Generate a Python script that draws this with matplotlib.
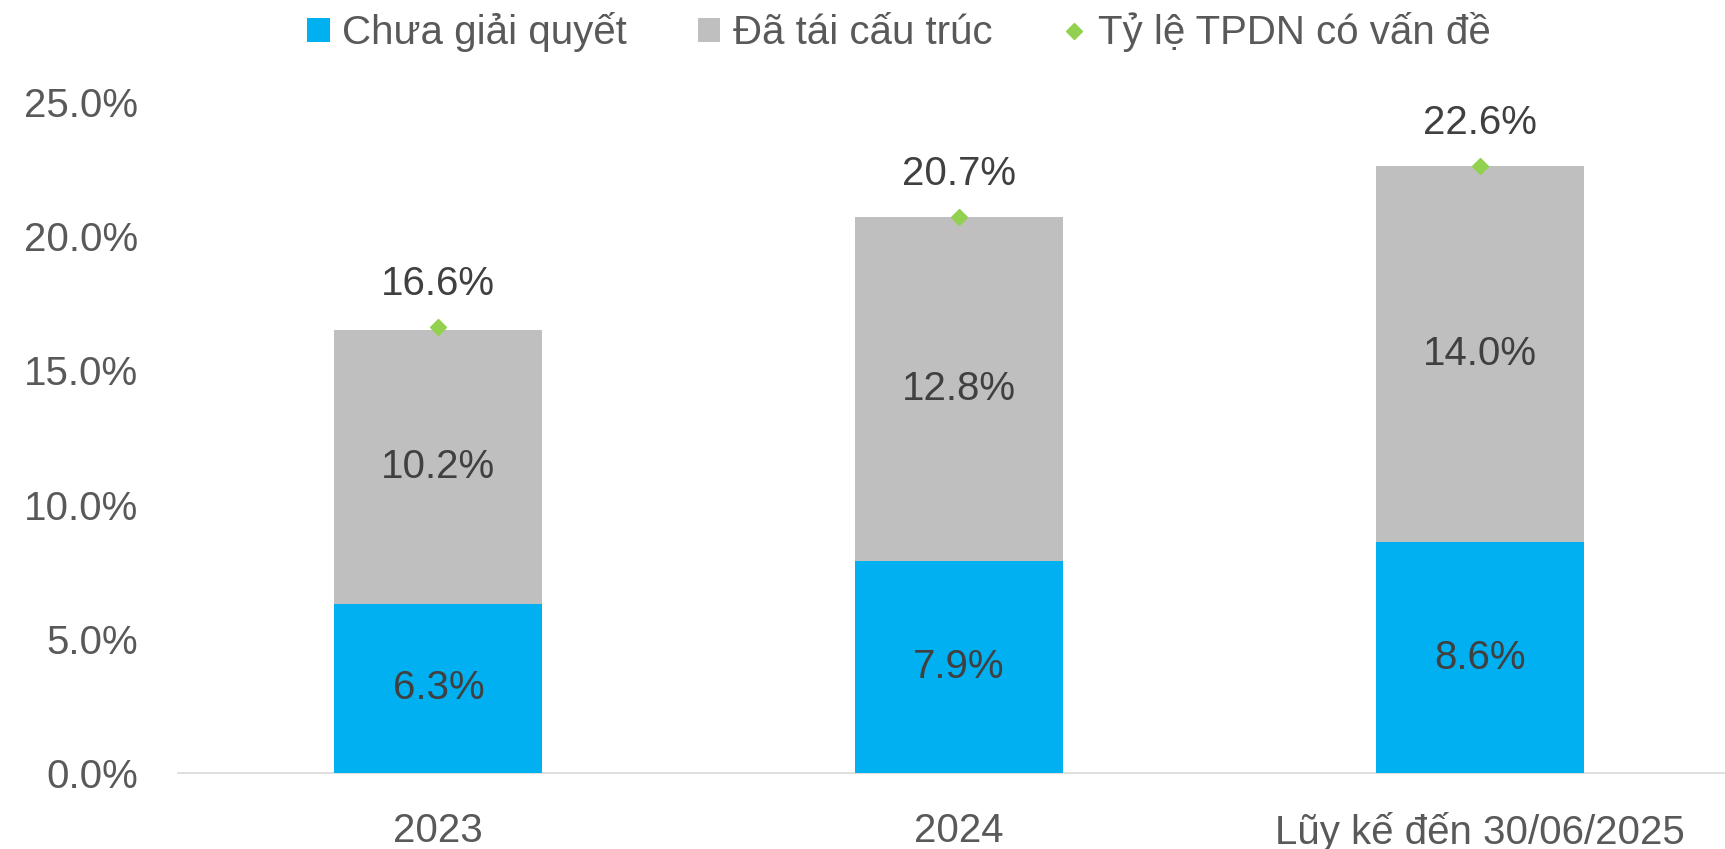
import matplotlib
matplotlib.use("Agg")
import matplotlib.pyplot as plt
from matplotlib.patches import Patch
from matplotlib.lines import Line2D
from matplotlib.ticker import PercentFormatter

plt.rcParams['font.family'] = ['Liberation Sans', 'DejaVu Sans']

categories = ["2023", "2024", "Lũy kế đến 30/06/2025"]
unresolved = [6.3, 7.9, 8.6]        # Chưa giải quyết
restructured = [10.2, 12.8, 14.0]   # Đã tái cấu trúc
total_ratio = [16.6, 20.7, 22.6]    # Tỷ lệ TPDN có vấn đề
legend_labels = ["Chưa giải quyết", "Đã tái cấu trúc", "Tỷ lệ TPDN có vấn đề"]

BLUE = "#00B0F0"
GRAY = "#BFBFBF"
GREEN = "#92D050"
TICK_C = "#595959"
LABEL_C = "#404040"
FS = 29

W, H = 1725, 849
fig = plt.figure(figsize=(W / 100, H / 100), dpi=100)
left = 178 / W
right = 1740 / W
bottom = 1 - 773 / H
top = 1 - 102 / H
ax = fig.add_axes([left, bottom, right - left, top - bottom])

x = list(range(len(categories)))
bw = 0.4
ax.bar(x, unresolved, bw, color=BLUE, zorder=2)
ax.bar(x, restructured, bw, bottom=unresolved, color=GRAY, zorder=2)
ax.plot(x, total_ratio, linestyle='none', marker='D', ms=8, color=GREEN, zorder=3, clip_on=False)

for i in x:
    ax.text(i, unresolved[i] / 2, f"{unresolved[i]:.1f}%", ha='center', va='center',
            fontsize=FS, color=LABEL_C, zorder=4)
    ax.text(i, unresolved[i] + restructured[i] / 2, f"{restructured[i]:.1f}%", ha='center',
            va='center', fontsize=FS, color=LABEL_C, zorder=4)
    ax.annotate(f"{total_ratio[i]:.1f}%", (i, total_ratio[i]), xytext=(0, 31),
                textcoords='offset points', ha='center', va='center', fontsize=FS,
                color=LABEL_C, annotation_clip=False)

ax.set_xlim(-0.5, 2.5)
ax.set_ylim(0, 25)
ax.set_yticks([0, 5, 10, 15, 20, 25])
ax.yaxis.set_major_formatter(PercentFormatter(decimals=1))
ax.set_xticks(x)
ax.set_xticklabels(categories)
ax.tick_params(axis='both', length=0, labelsize=FS, labelcolor=TICK_C)
ax.tick_params(axis='y', pad=28.5)
ax.tick_params(axis='x', pad=28)
for s in ['top', 'right', 'left']:
    ax.spines[s].set_visible(False)
ax.spines['bottom'].set_color('#D9D9D9')
ax.spines['bottom'].set_linewidth(1.2)
ax.spines['bottom'].set_zorder(1)

handles = [
    Patch(facecolor=BLUE, edgecolor='none'),
    Patch(facecolor=GRAY, edgecolor='none'),
    Line2D([], [], linestyle='none', marker='D', ms=8, color=GREEN),
]
fig.legend(handles, legend_labels, loc='center', bbox_to_anchor=(899 / W, 1 - 32 / H),
           ncol=3, frameon=False, fontsize=FS, labelcolor=TICK_C,
           handlelength=0.55, handleheight=0.55, handletextpad=0.32, columnspacing=1.75,
           borderpad=0, borderaxespad=0)

fig.savefig("out.png", dpi=100)
